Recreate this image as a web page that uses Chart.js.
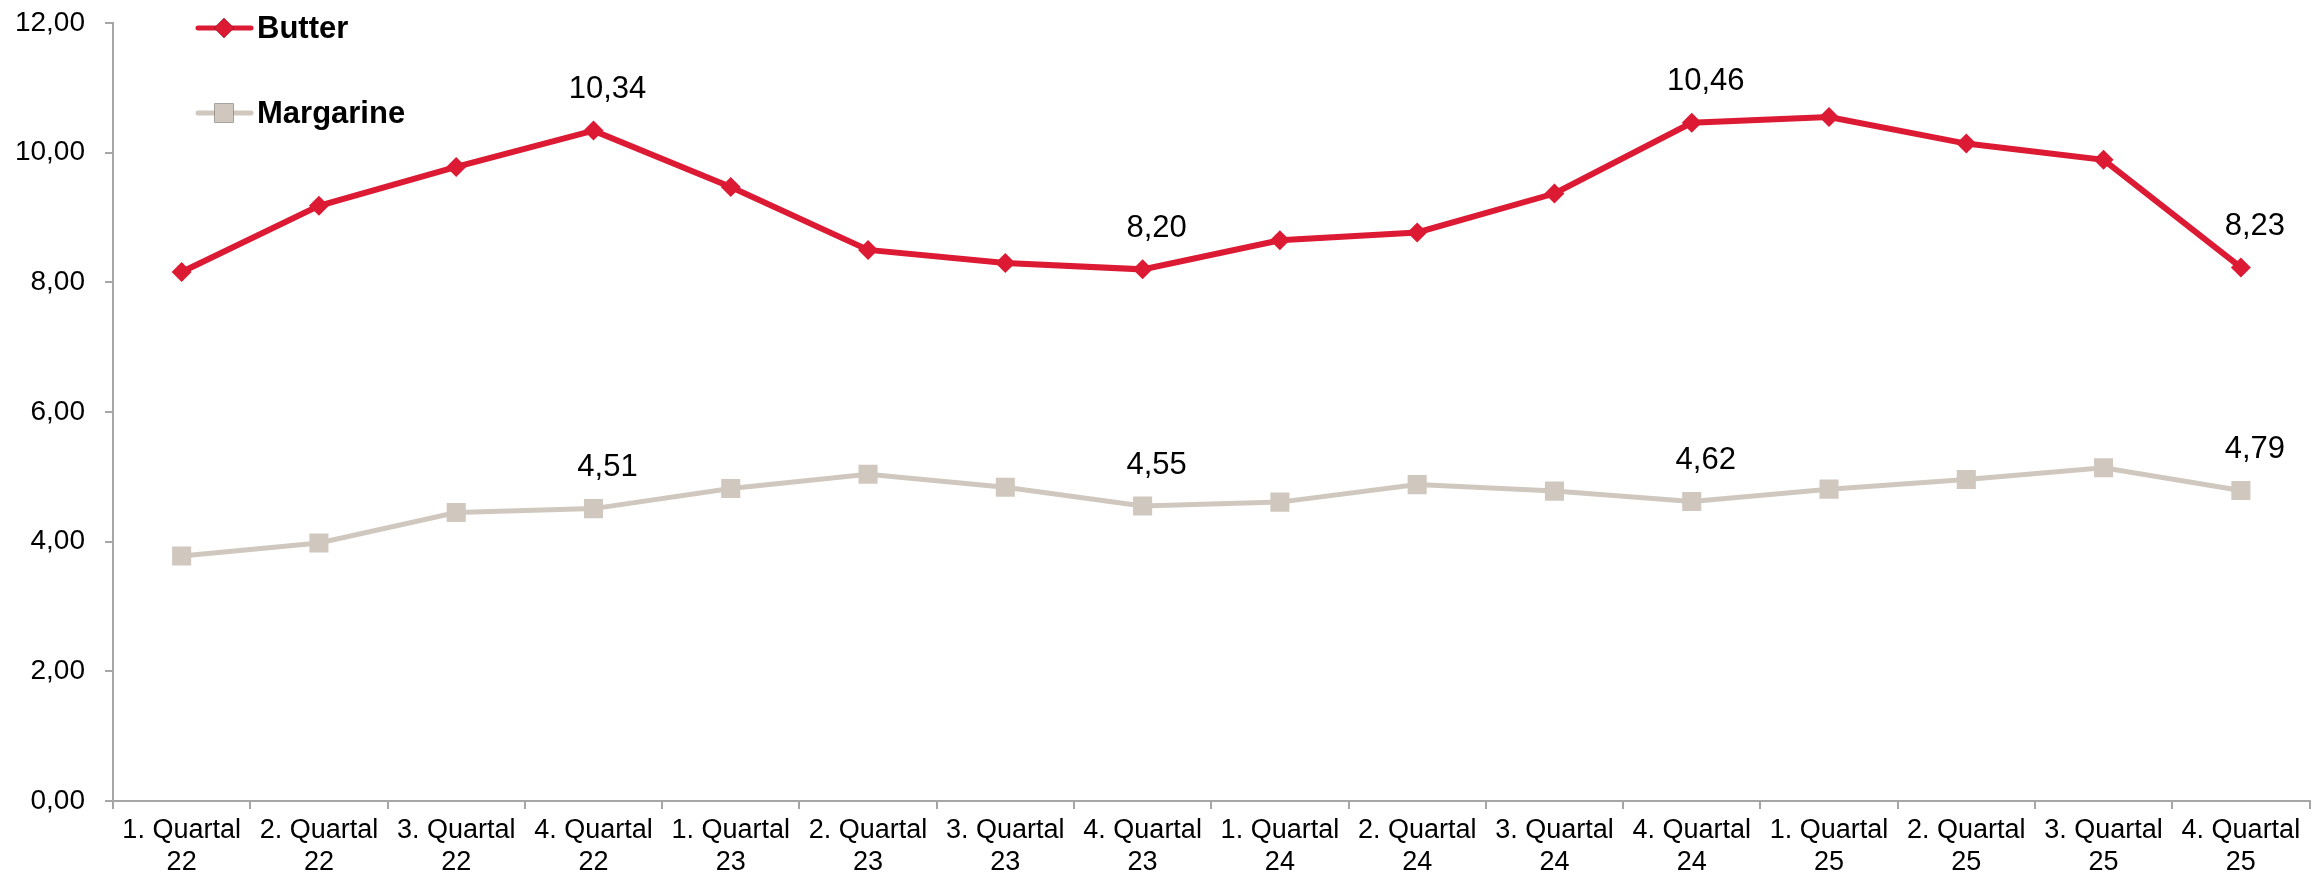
<!DOCTYPE html>
<html>
<head>
<meta charset="utf-8">
<script src="https://cdn.jsdelivr.net/npm/chart.js@4.4.1/dist/chart.umd.min.js"></script>
<style>
  html, body { margin: 0; padding: 0; background: #fff; }
  canvas { display: block; }
</style>
</head>
<body>
<canvas id="chart" width="2323" height="878"></canvas>
<script>
// quarters on the x axis (two lines each)
const quarters = [
  ['1. Quartal', '22'], ['2. Quartal', '22'], ['3. Quartal', '22'], ['4. Quartal', '22'],
  ['1. Quartal', '23'], ['2. Quartal', '23'], ['3. Quartal', '23'], ['4. Quartal', '23'],
  ['1. Quartal', '24'], ['2. Quartal', '24'], ['3. Quartal', '24'], ['4. Quartal', '24'],
  ['1. Quartal', '25'], ['2. Quartal', '25'], ['3. Quartal', '25'], ['4. Quartal', '25']
];
const butter = [8.16, 9.18, 9.78, 10.34, 9.47, 8.50, 8.30, 8.20, 8.65, 8.77, 9.37, 10.46, 10.55, 10.14, 9.89, 8.23];
const margarine = [3.78, 3.98, 4.45, 4.51, 4.82, 5.04, 4.84, 4.55, 4.61, 4.88, 4.78, 4.62, 4.81, 4.96, 5.14, 4.79];
// only these points carry a value label
const labelIdx = [3, 7, 11, 15];
const yTicks = [0, 2, 4, 6, 8, 10, 12];

const RED = '#DC1A34';
const GREY = '#D0C8BF';
const AXIS = '#A6A6A6';
const FONT = '"Liberation Sans", Arial, sans-serif';

const fmt = v => v.toFixed(2).replace('.', ',');

const valueLabels = {
  id: 'valueLabels',
  afterDatasetsDraw(chart) {
    const ctx = chart.ctx;
    ctx.save();
    ctx.font = '31px ' + FONT;
    ctx.fillStyle = '#000';
    ctx.textAlign = 'center';
    ctx.textBaseline = 'middle';
    chart.data.datasets.forEach((ds, di) => {
      const meta = chart.getDatasetMeta(di);
      labelIdx.forEach(i => {
        const pt = meta.data[i];
        ctx.fillText(fmt(ds.data[i]), pt.x + 14, pt.y - 41);
      });
    });
    ctx.restore();
  }
};

const sideLegend = {
  id: 'sideLegend',
  afterDraw(chart) {
    const ctx = chart.ctx;
    const rows = [
      { ds: chart.data.datasets[0], y: 28 },
      { ds: chart.data.datasets[1], y: 113 }
    ];
    ctx.save();
    rows.forEach(r => {
      ctx.strokeStyle = r.ds.borderColor;
      ctx.lineWidth = 5;
      ctx.lineCap = 'round';
      ctx.beginPath();
      ctx.moveTo(198, r.y);
      ctx.lineTo(251, r.y);
      ctx.stroke();
      Chart.helpers.drawPoint(ctx, {
        pointStyle: r.ds.pointStyle, radius: r.ds.pointRadius, rotation: 0, borderWidth: 0
      }, 224, r.y);
      ctx.fillStyle = r.ds.borderColor;
      ctx.fill();
      ctx.fillStyle = '#000';
      ctx.font = 'bold 31px ' + FONT;
      ctx.textAlign = 'left';
      ctx.textBaseline = 'middle';
      ctx.fillText(r.ds.label, 257, r.y + 1);
    });
    ctx.restore();
  }
};

new Chart(document.getElementById('chart'), {
  type: 'line',
  data: {
    labels: quarters,
    datasets: [
      {
        label: 'Butter',
        data: butter,
        borderColor: RED,
        backgroundColor: RED,
        borderWidth: 6,
        pointStyle: 'rectRot',
        pointRadius: 10,
        pointBorderWidth: 0,
        tension: 0
      },
      {
        label: 'Margarine',
        data: margarine,
        borderColor: GREY,
        backgroundColor: GREY,
        borderWidth: 5,
        pointStyle: 'rect',
        pointRadius: 13.5,
        pointBorderWidth: 0,
        tension: 0
      }
    ]
  },
  options: {
    responsive: false,
    animation: false,
    layout: { padding: { top: 23, right: 13, left: 0, bottom: 0 } },
    plugins: { legend: { display: false }, tooltip: { enabled: false } },
    scales: {
      x: {
        offset: true,
        afterFit: s => { s.height = 77; },
        border: { color: AXIS, width: 2 },
        grid: { offset: true, drawOnChartArea: false, drawTicks: true, tickLength: 8, color: AXIS, lineWidth: 2 },
        ticks: {
          autoSkip: false, maxRotation: 0, padding: 6, color: '#000',
          font: { family: FONT, size: 27, lineHeight: 1.18 }
        }
      },
      y: {
        min: 0,
        max: 12,
        afterFit: s => { s.width = 113; s.paddingTop = 0; s.paddingBottom = 0; },
        afterBuildTicks: s => { s.ticks = yTicks.map(v => ({ value: v })); },
        border: { color: AXIS, width: 2 },
        grid: { drawOnChartArea: false, drawTicks: true, tickLength: 8, color: AXIS, lineWidth: 2 },
        ticks: {
          padding: 20, color: '#000',
          font: { family: FONT, size: 28 },
          callback: v => fmt(v)
        }
      }
    }
  },
  plugins: [valueLabels, sideLegend]
});
</script>
</body>
</html>
